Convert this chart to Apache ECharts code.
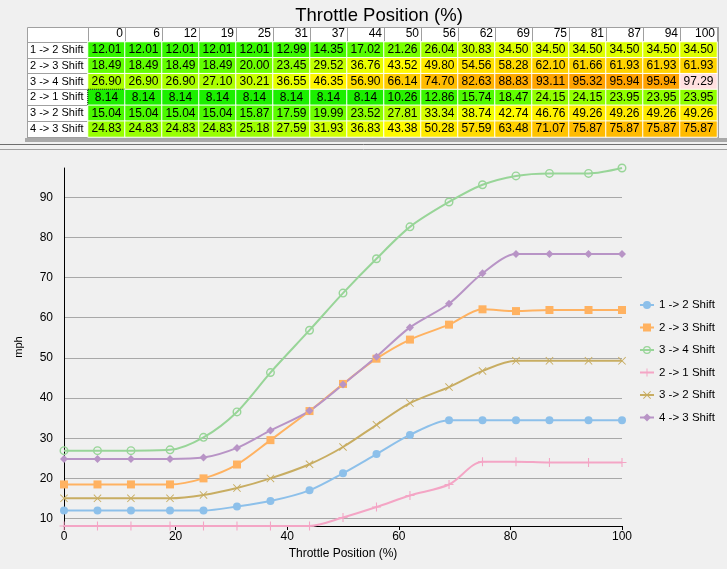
<!DOCTYPE html>
<html>
<head>
<meta charset="utf-8">
<script src="https://cdn.jsdelivr.net/npm/echarts@6/dist/echarts.min.js"></script>
<style>
html,body{margin:0;padding:0;background:#f0f0f0;}
#c{width:727px;height:569px;}
</style>
</head>
<body>
<div id="c"></div>
<script>
// ---- data ----
const throttle = [0, 6, 12, 19, 25, 31, 37, 44, 50, 56, 62, 69, 75, 81, 87, 94, 100];
const throttleLabels = ['0','6','12','19','25','31','37','44','50','56','62','69','75','81','87','94','100'];
const shiftNames = ['1 -> 2 Shift', '2 -> 3 Shift', '3 -> 4 Shift', '2 -> 1 Shift', '3 -> 2 Shift', '4 -> 3 Shift'];
const shift12 = [12.01,12.01,12.01,12.01,12.01,12.99,14.35,17.02,21.26,26.04,30.83,34.50,34.50,34.50,34.50,34.50,34.50];
const shift23 = [18.49,18.49,18.49,18.49,20.00,23.45,29.52,36.76,43.52,49.80,54.56,58.28,62.10,61.66,61.93,61.93,61.93];
const shift34 = [26.90,26.90,26.90,27.10,30.21,36.55,46.35,56.90,66.14,74.70,82.63,88.83,93.11,95.32,95.94,95.94,97.29];
const shift21 = [8.14,8.14,8.14,8.14,8.14,8.14,8.14,8.14,10.26,12.86,15.74,18.47,24.15,24.15,23.95,23.95,23.95];
const shift32 = [15.04,15.04,15.04,15.04,15.87,17.59,19.99,23.52,27.81,33.34,38.74,42.74,46.76,49.26,49.26,49.26,49.26];
const shift43 = [24.83,24.83,24.83,24.83,25.18,27.59,31.93,36.83,43.38,50.28,57.59,63.48,71.07,75.87,75.87,75.87,75.87];
const xTickInterval = 20;

// ---- styles ----
const rows = [shift12, shift23, shift34, shift21, shift32, shift43];
const colors = ['#8dc0ea', '#ffb261', '#98d598', '#f4a5c5', '#c8ad62', '#b894c6'];
const PLUS = 'path://M4.4,0H5.6V4.4H10V5.6H5.6V10H4.4V5.6H0V4.4H4.4Z';
const CROSS = 'path://M0.8,0L5,4.2L9.2,0L10,0.8L5.8,5L10,9.2L9.2,10L5,5.8L0.8,10L0,9.2L4.2,5L0,0.8Z';
const RING = 'path://M5,0A5,5,0,1,1,5,10A5,5,0,1,1,5,0ZM5,1.6A3.4,3.4,0,1,0,5,8.4A3.4,3.4,0,1,0,5,1.6Z';
const symbols = ['circle', 'rect', RING, PLUS, CROSS, 'diamond'];
const symbolSizes = [8, 8, 9, 9, 8, 8];
const FONT = "'Liberation Sans', Arial, sans-serif";

const heatData = [];
rows.forEach((vals, r) => vals.forEach((v, c) => {
  const item = { value: [c, r, v] };
  if (r === 3 && c === 0) item.itemStyle = { borderColor: '#000', borderType: 'dotted', borderWidth: 1 };
  heatData.push(item);
}));

const lineSeries = rows.map((vals, i) => ({
  name: shiftNames[i],
  type: 'line',
  xAxisIndex: 0,
  yAxisIndex: 0,
  data: throttle.map((t, k) => [t, vals[k]]),
  smooth: 0.3,
  symbol: symbols[i],
  symbolSize: symbolSizes[i],
  showAllSymbol: true,
  color: colors[i],
  lineStyle: { width: 2, color: colors[i] },
  itemStyle: { color: colors[i] },
  z: 3
}));

const chart = echarts.init(document.getElementById('c'), null, { renderer: 'canvas' });
chart.setOption({
  backgroundColor: '#f0f0f0',
  animation: false,
  textStyle: { fontFamily: FONT },
  title: {
    text: 'Throttle Position (%)',
    left: 374, top: 1, textAlign: 'center',
    textStyle: { fontFamily: FONT, fontSize: 18.5, fontWeight: 'normal', color: '#000' }
  },
  graphic: [
    { type: 'rect', z: -10, shape: { x: 27.5, y: 27.5, width: 690, height: 110 }, style: { fill: '#ffffff', stroke: '#a0a0a0', lineWidth: 1 } },
    { type: 'rect', z: -5, shape: { x: 717, y: 27, width: 2, height: 111 }, style: { fill: '#a0a0a0' } },
    { type: 'rect', z: -5, shape: { x: 25, y: 138, width: 702, height: 4 }, style: { fill: '#a9a9a9' } },
    { type: 'line', z: -5, shape: { x1: 0, y1: 144.5, x2: 727, y2: 144.5 }, style: { stroke: '#6e6e6e', lineWidth: 1 } },
    { type: 'line', z: -5, shape: { x1: 0, y1: 149.5, x2: 727, y2: 149.5 }, style: { stroke: '#a0a0a0', lineWidth: 1 } }
  ],
  grid: [
    { left: 64, top: 168, width: 558, bottom: 43, containLabel: false, outerBoundsMode: 'none' },
    { left: 88, top: 42, width: 629, height: 95, containLabel: false, outerBoundsMode: 'none' }
  ],
  legend: {
    data: shiftNames,
    orient: 'vertical',
    left: 639, top: 298, padding: 0,
    itemWidth: 14, itemHeight: 10, itemGap: 8.5,
    textStyle: { fontFamily: FONT, fontSize: 11.5, color: '#000', lineHeight: 14 }
  },
  visualMap: {
    type: 'continuous',
    show: false,
    seriesIndex: 0,
    dimension: 2,
    min: 8, max: 97.3,
    range: [8, 96.5],
    inRange: { color: ['#1aef00', '#66ff00', '#c8ff00', '#ffff00', '#ffe400', '#ffd000', '#ffbc00', '#ffad00', '#ffa000'] },
    outOfRange: { color: '#ffe0e0' }
  },
  xAxis: [
    {
      type: 'value', gridIndex: 0, min: 0, max: 100, interval: xTickInterval,
      name: 'Throttle Position (%)', nameLocation: 'middle', nameGap: 21,
      nameTextStyle: { fontFamily: FONT, fontSize: 12, color: '#000' },
      axisLine: { show: true, lineStyle: { color: '#000', width: 1 } },
      axisTick: { show: true, length: 4, lineStyle: { color: '#000' } },
      axisLabel: { fontFamily: FONT, fontSize: 12, color: '#000', margin: 5 },
      splitLine: { show: false }
    },
    {
      type: 'category', gridIndex: 1, position: 'top', data: throttleLabels,
      axisLine: { show: true, lineStyle: { color: '#a0a0a0' } },
      axisTick: { show: true, length: 15, alignWithLabel: false, lineStyle: { color: '#a0a0a0' } },
      axisLabel: {
        margin: 2, interval: 0,
        formatter: v => '{a|' + v + '}',
        rich: { a: { width: 33, align: 'right', fontFamily: FONT, fontSize: 12, color: '#000', lineHeight: 13 } }
      },
      splitLine: { show: false }
    }
  ],
  yAxis: [
    {
      type: 'value', gridIndex: 0, min: 'dataMin', max: 'dataMax', splitNumber: 9,
      name: 'mph', nameLocation: 'middle', nameGap: 40, nameRotate: 90,
      nameTextStyle: { fontFamily: FONT, fontSize: 11, color: '#000' },
      axisLine: { show: true, lineStyle: { color: '#000', width: 1 } },
      axisTick: { show: false },
      axisLabel: { fontFamily: FONT, fontSize: 12, color: '#000', margin: 11, showMinLabel: false, showMaxLabel: false },
      splitLine: { show: true, showMinLine: false, showMaxLine: false, lineStyle: { color: '#a8a8a8', width: 1 } }
    },
    {
      type: 'category', gridIndex: 1, data: shiftNames, inverse: true,
      axisLine: { show: true, lineStyle: { color: '#a0a0a0' } },
      axisTick: { show: true, length: 61, alignWithLabel: false, lineStyle: { color: '#a0a0a0' } },
      axisLabel: { align: 'left', margin: 58, interval: 0, fontFamily: FONT, fontSize: 11, color: '#000' },
      splitLine: { show: false }
    }
  ],
  series: [
    {
      name: 'table', type: 'heatmap', xAxisIndex: 1, yAxisIndex: 1,
      data: heatData,
      itemStyle: { borderColor: '#ffffff', borderWidth: 1 },
      label: {
        show: true, fontFamily: FONT, fontSize: 12, color: '#000',
        formatter: p => p.value[2].toFixed(2)
      },
      emphasis: { disabled: true }
    }
  ].concat(lineSeries)
});
</script>
</body>
</html>
